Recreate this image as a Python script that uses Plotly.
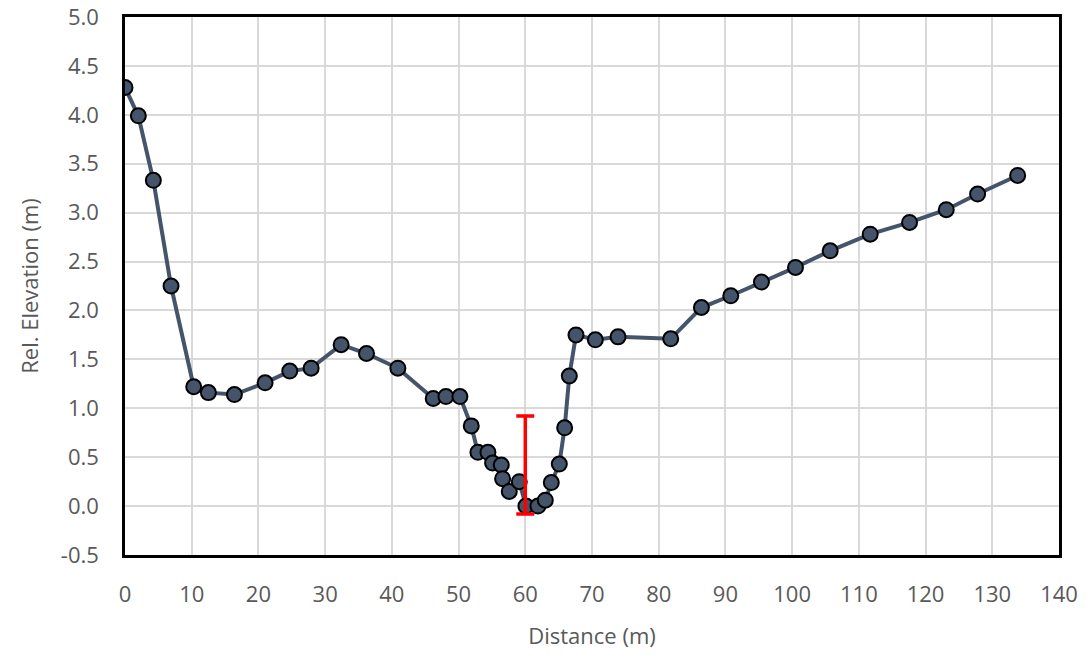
import plotly.graph_objects as go

distance = [0.0, 2.0, 4.25, 6.9, 10.3, 12.5, 16.4, 21.0, 24.7, 27.9, 32.4, 36.2, 40.9,
            46.2, 48.1, 50.2, 51.9, 52.9, 54.4, 55.1, 56.4, 56.6, 57.6, 59.1, 60.1,
            61.9, 63.0, 63.9, 65.1, 65.9, 66.6, 67.6, 70.5, 73.9, 81.8, 86.4, 90.8,
            95.4, 100.5, 105.7, 111.7, 117.6, 123.1, 127.8, 133.8]
elevation = [4.28, 3.99, 3.33, 2.25, 1.22, 1.16, 1.14, 1.26, 1.38, 1.41, 1.65, 1.56, 1.41,
             1.10, 1.12, 1.12, 0.82, 0.55, 0.55, 0.44, 0.42, 0.28, 0.15, 0.25, 0.0,
             0.0, 0.06, 0.24, 0.43, 0.80, 1.33, 1.75, 1.70, 1.73, 1.71, 2.03, 2.15,
             2.29, 2.44, 2.61, 2.78, 2.90, 3.03, 3.19, 3.38]

bar_x = [60.0]
bar_low = [-0.08]
bar_high = [0.92]

x_ticks = list(range(0, 141, 10))
y_ticks = [-0.5, 0.0, 0.5, 1.0, 1.5, 2.0, 2.5, 3.0, 3.5, 4.0, 4.5, 5.0]

bar_mid = [(a + b) / 2 for a, b in zip(bar_low, bar_high)]

fig = go.Figure()
fig.add_trace(go.Scatter(
    x=distance, y=elevation, mode="lines+markers",
    line=dict(color="#44546A", width=4),
    marker=dict(size=15, color="#44546A", line=dict(color="#000000", width=2)),
    showlegend=False, hoverinfo="x+y",
))
fig.add_trace(go.Scatter(
    x=bar_x, y=bar_mid, mode="markers",
    marker=dict(size=1, color="rgba(0,0,0,0)"),
    error_y=dict(type="data", symmetric=False,
                 array=[h - m for h, m in zip(bar_high, bar_mid)],
                 arrayminus=[m - l for m, l in zip(bar_mid, bar_low)],
                 color="#FF0000", thickness=3.5, width=9),
    showlegend=False,
))

font_family = "Open Sans, Liberation Sans, sans-serif"
grey = "#595959"

fig.update_layout(
    width=1088, height=660,
    margin=dict(l=125, r=29, t=17, b=105, autoexpand=False),
    paper_bgcolor="white", plot_bgcolor="white",
    font=dict(family=font_family, color=grey, size=22),
)
fig.update_xaxes(
    range=[0, 140], tickvals=x_ticks, ticktext=[str(v) for v in x_ticks],
    showgrid=True, gridcolor="#D9D9D9", gridwidth=2,
    showline=True, linecolor="#000000", linewidth=2.5, mirror=True,
    zeroline=False, ticks="", ticklabelstandoff=18, automargin=False,
    ticklabeloverflow="allow",
    tickfont=dict(size=22, color=grey),
    title=dict(text="Distance (m)", font=dict(size=22, color=grey), standoff=22),
)
fig.update_yaxes(
    range=[-0.5, 5.0], tickvals=y_ticks, ticktext=[f"{v:.1f}" for v in y_ticks],
    showgrid=True, gridcolor="#D9D9D9", gridwidth=2,
    showline=True, linecolor="#000000", linewidth=2.5, mirror=True,
    zeroline=False, ticks="", ticklabelstandoff=19, automargin=False,
    ticklabeloverflow="allow",
    tickfont=dict(size=22, color=grey),
    title=dict(text="Rel. Elevation (m)", font=dict(size=22, color=grey), standoff=17),
)

fig.write_html("out.html",
               config={"displayModeBar": False},
               post_script="document.body.style.margin='0';document.body.style.overflow='hidden';")
